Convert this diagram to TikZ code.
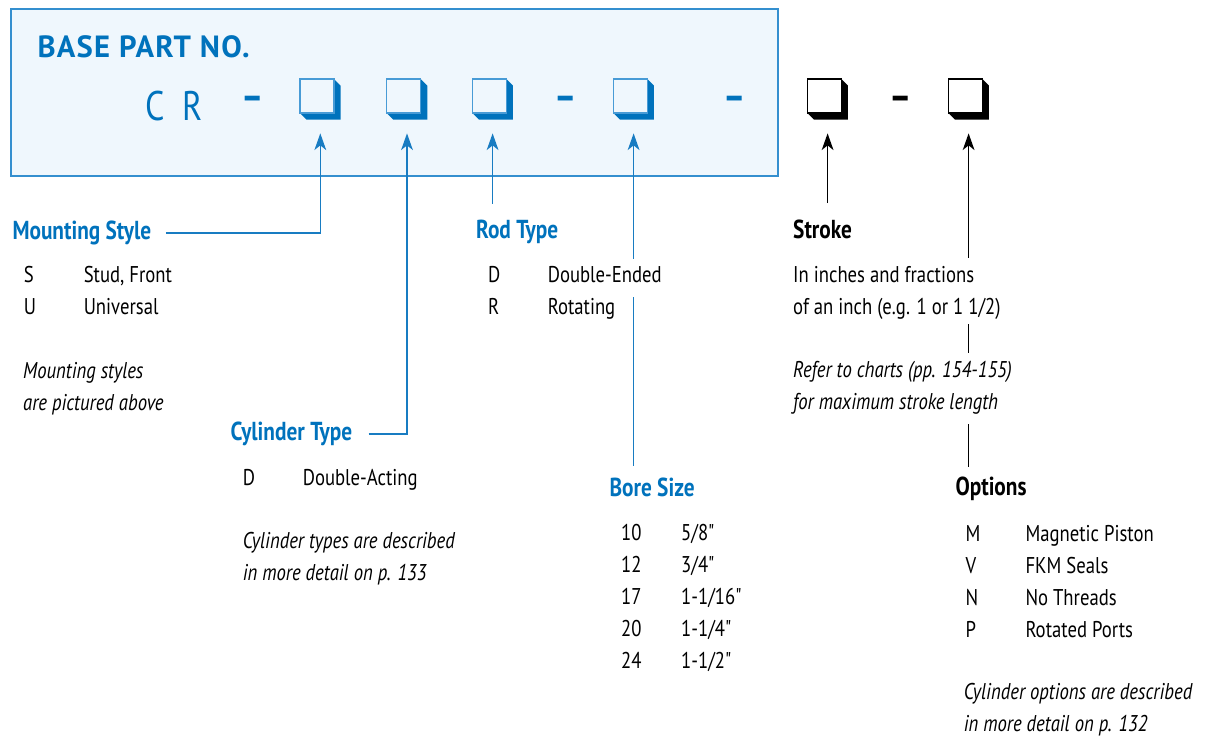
\documentclass[tikz,border=0pt]{standalone}
\usepackage{fontspec}
\setmainfont{PT Sans}[FakeStretch=0.82]
\newfontfamily\inchfont{PT Sans}[FakeStretch=0.82]
\newfontfamily\titlefont{PT Sans}[LetterSpace=4]
\usetikzlibrary{arrows.meta,calc}

\definecolor{cblue}{RGB}{0,114,188}
\definecolor{cline}{RGB}{24,124,194}
\definecolor{cfill}{RGB}{239,247,253}
\definecolor{cframe}{RGB}{52,143,207}
\definecolor{cedge}{RGB}{72,155,214}

\newcommand\bodyfont{\fontsize{17.1pt}{24pt}\selectfont}
\newcommand\headfont{\fontsize{19.5pt}{24pt}\selectfont\bfseries}

\tikzset{every picture/.style={line width=0.75pt}}
\tikzset{
  lbl/.style={anchor=base west, inner sep=0pt, font=\bodyfont},
  note/.style={lbl, font=\bodyfont\itshape},
  head/.style={anchor=base west, inner sep=0pt, font=\headfont, text=cblue},
  slot/.style={minimum size=30.5pt, inner sep=0pt, outer sep=0pt},
  sepbar/.style={inner sep=0pt, font=\fontsize{31pt}{32pt}\selectfont\bfseries},
  link/.style={draw=cline, line width=1.2pt},
  blink/.style={draw=black, line width=1.2pt},
  pointer/.style={-{Stealth[length=12.5pt,width=8.8pt,inset=3.5pt]}, shorten >=10.3pt},
}

\begin{document}
\begin{tikzpicture}[x=0.75pt,y=0.75pt,yscale=-1,xscale=1]
\useasboundingbox (0,0) rectangle (1206,740);

%Shape: part number box
\draw [draw=cframe, fill=cfill, line width=1.1pt] (11,9) rectangle (778,176);

% Text Node
\node [anchor=base west, inner sep=0pt, text=cblue, font=\titlefont\bfseries\fontsize{23pt}{24pt}\selectfont] (base) at (37,57.3) {BASE PART NO.};
% Text Node
\node [anchor=base west, inner sep=0pt, text=cblue, font=\fontsize{31pt}{32pt}\selectfont] (cr) at (145,120) {C\hspace{13pt}R};

% dashes of the part number
\node [sepbar, text=cblue] (d1) at (252.5,103.5) {–};
\node [sepbar, text=cblue] (d2) at (565.3,103.5) {–};
\node [sepbar, text=cblue] (d3) at (734.3,103.5) {–};
\node [sepbar] (d4) at (900.5,103.3) {–};

% slots of the part number
\node [slot] (sq1) at (320.3,99.3) {};
\node [slot] (sq2) at (407,99.3) {};
\node [slot] (sq3) at (492.6,99.3) {};
\node [slot] (sq4) at (633.6,99.3) {};
\node [slot] (sq5) at (827.6,99.3) {};
\node [slot] (sq6) at (968.6,99.3) {};
\foreach \s/\c/\e/\f in {sq1/cblue/cedge/cfill,sq2/cblue/cedge/cfill,sq3/cblue/cedge/cfill,sq4/cblue/cedge/cfill,sq5/black/black/white,sq6/black/black/white}{
  \fill [\c] (\s.north west) ++(34,0) -- ++(6.7,6.7) -- ++(0,34) -- ++(-34,0) -- ++(-6.7,-6.7) -- ++(34,0) -- cycle;
  \draw [\e, fill=\f, line width=1pt] (\s.north west) rectangle ++(34,34);
}

% Mounting Style
\node [head] (mount) at (12,239.3) {Mounting Style};
\node [lbl] (mk1) at (23.3,282.7) {S};
\node [lbl] (mt1) at (83.3,282.7) {Stud, Front};
\node [lbl] (mk2) at (23.3,314.7) {U};
\node [lbl] (mt2) at (83.3,314.7) {Universal};
\node [note] (mn1) at (22.7,378.3) {Mounting styles};
\node [note] (mn2) at (22.7,410.3) {are pictured above};

% Cylinder Type
\node [head] (cyl) at (230,440.7) {Cylinder Type};
\node [lbl] (ck1) at (242.3,485) {D};
\node [lbl] (ct1) at (302.3,485) {Double-Acting};
\node [note] (cn1) at (242.3,548.7) {Cylinder types are described};
\node [note] (cn2) at (242.3,580.7) {in more detail on p. 133};

% Rod Type
\node [head] (rod) at (475.7,238.8) {Rod Type};
\node [lbl] (rk1) at (487.7,282.3) {D};
\node [lbl] (rt1) at (547.3,282.3) {Double-Ended};
\node [lbl] (rk2) at (487.7,314.3) {R};
\node [lbl] (rt2) at (547.3,314.3) {Rotating};

% Bore Size
\node [head] (bore) at (609,496.5) {Bore Size};
\node [lbl] (bk1) at (620.7,540.7) {10};
\node [lbl] (bt1) at (680.7,540.7) {\inchfont 5/8"};
\node [lbl] (bk2) at (620.7,572.7) {12};
\node [lbl] (bt2) at (680.7,572.7) {\inchfont 3/4"};
\node [lbl] (bk3) at (620.7,604.7) {17};
\node [lbl] (bt3) at (680.7,604.7) {\inchfont 1-1/16"};
\node [lbl] (bk4) at (620.7,636.7) {20};
\node [lbl] (bt4) at (680.7,636.7) {\inchfont 1-1/4"};
\node [lbl] (bk5) at (620.7,668.7) {24};
\node [lbl] (bt5) at (680.7,668.7) {\inchfont 1-1/2"};

% Stroke
\node [head, text=black] (strk) at (792.7,238.3) {Stroke};
\node [lbl] (sd1) at (792.7,282.3) {In inches and fractions};
\node [lbl] (sd2) at (792.7,314.3) {of an inch (e.g. 1 or 1 1/2)};
\node [note] (sn1) at (792.7,377.3) {Refer to charts (pp. 154-155)};
\node [note] (sn2) at (792.7,409.3) {for maximum stroke length};

% Options
\node [head, text=black] (opts) at (955,495) {Options};
\node [lbl] (ok1) at (965,541.7) {M};
\node [lbl] (ot1) at (1025,541.7) {Magnetic Piston};
\node [lbl] (ok2) at (965,573.7) {V};
\node [lbl] (ot2) at (1025,573.7) {FKM Seals};
\node [lbl] (ok3) at (965,605.7) {N};
\node [lbl] (ot3) at (1025,605.7) {No Threads};
\node [lbl] (ok4) at (965,637.7) {P};
\node [lbl] (ot4) at (1025,637.7) {Rotated Ports};
\node [note] (on1) at (963.3,699.5) {Cylinder options are described};
\node [note] (on2) at (963.3,731.5) {in more detail on p. 132};

% leaders
\draw [link, pointer] ($(mount.east)+(14,0)$) -| (sq1.south);
\draw [link, pointer] ($(cyl.east)+(16,0)$) -| (sq2.south);
\draw [link, pointer] ($(sq3.south |- rod.north)+(0,-16)$) -- (sq3.south);
\draw [link, pointer] ($(sq4.south |- rt1.north)+(0,-7)$) -- (sq4.south);
\draw [link] ($(sq4.south |- rt1.base)+(0,15)$) -- ($(sq4.south |- bore.north)+(0,-11)$);
\draw [blink, pointer] ($(sq5.south |- strk.north)+(0,-16)$) -- (sq5.south);
\draw [blink, pointer] ($(sq6.south |- sd1.north)+(0,-8)$) -- (sq6.south);
\draw [blink] ($(sq6.south |- sd2.base)+(0,10)$) -- ($(sq6.south |- sn1.north)+(0,-8)$);
\draw [blink] ($(sq6.south |- sn2.base)+(0,15)$) -- ($(sq6.south |- opts.north)+(0,-9)$);

\end{tikzpicture}
\end{document}
